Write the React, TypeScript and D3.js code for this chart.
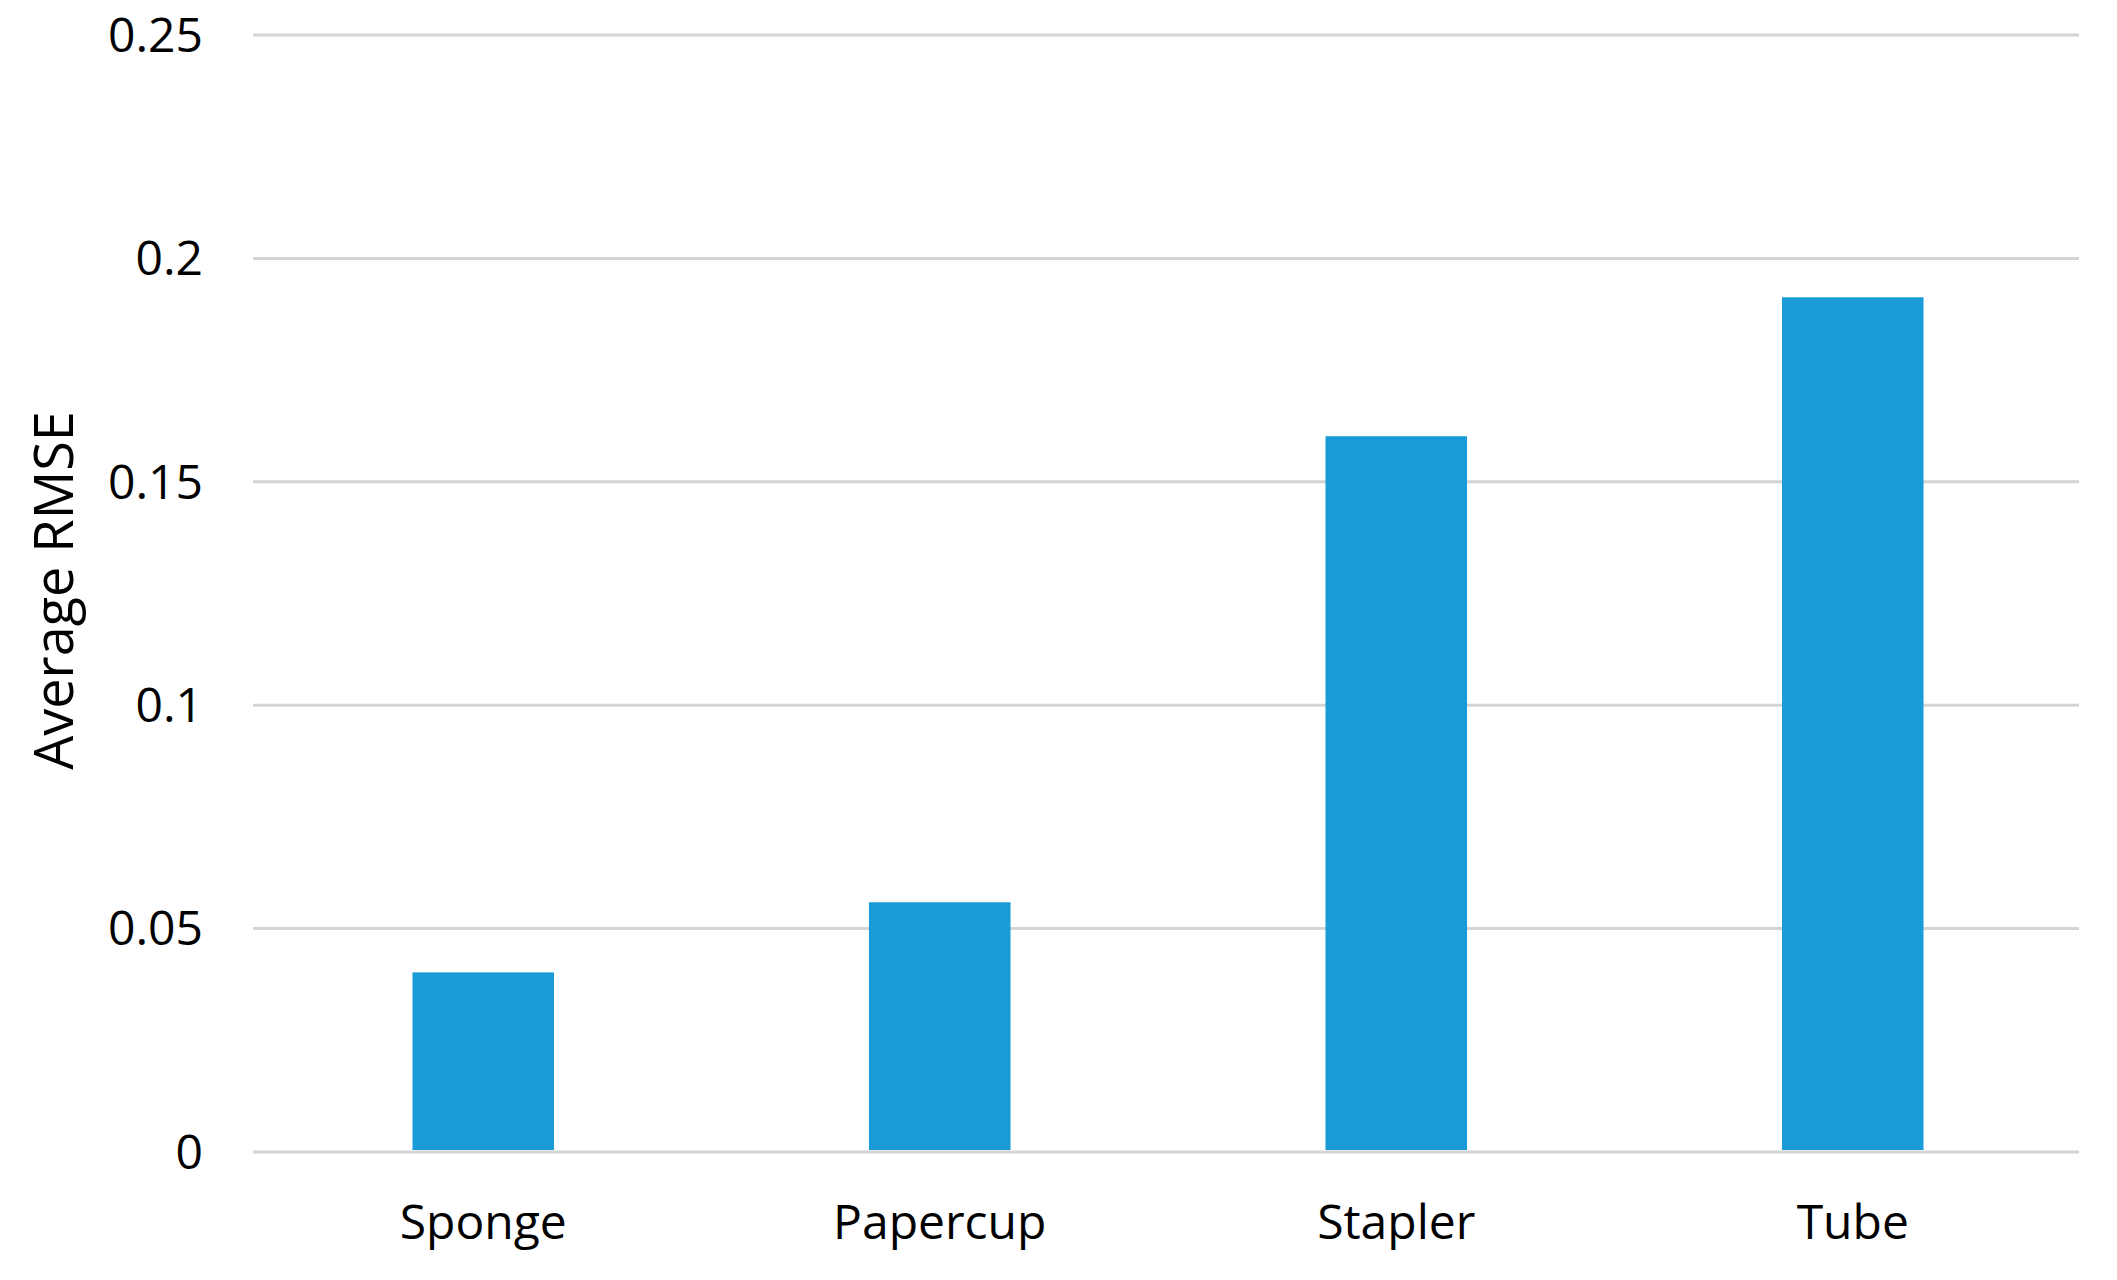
import React, { useRef, useEffect } from "react";
import * as d3 from "d3";

const categories = ["Sponge", "Papercup", "Stapler", "Tube"];
const rmseValues = [0.0402, 0.0559, 0.1602, 0.1913];
const tickValues = [0, 0.05, 0.1, 0.15, 0.2, 0.25];
const tickLabels = ["0", "0.05", "0.1", "0.15", "0.2", "0.25"];

const App = () => {
  const svgRef = useRef<SVGSVGElement | null>(null);

  useEffect(() => {
    const svg = d3.select(svgRef.current);
    svg.selectAll("*").remove();

    const width = 2117;
    const height = 1280;
    const margin = { top: 35, right: 38, bottom: 128, left: 253 };
    const font = "'Open Sans', 'Segoe UI', sans-serif";

    const x = d3
      .scaleBand()
      .domain(categories)
      .range([margin.left + 2, width - margin.right + 2])
      .paddingInner(0.69)
      .paddingOuter(0.345);

    const y = d3
      .scaleLinear()
      .domain([0, 0.25])
      .range([height - margin.bottom, margin.top]);

    // gridlines
    svg
      .append("g")
      .selectAll("line")
      .data(tickValues)
      .enter()
      .append("line")
      .attr("x1", margin.left)
      .attr("x2", width - margin.right)
      .attr("y1", (d) => y(d))
      .attr("y2", (d) => y(d))
      .attr("stroke", "#d4d4d4")
      .attr("stroke-width", 3);

    // y tick labels
    svg
      .append("g")
      .selectAll("text")
      .data(tickValues)
      .enter()
      .append("text")
      .attr("x", 203)
      .attr("y", (d) => y(d))
      .attr("dy", "0.35em")
      .attr("text-anchor", "end")
      .attr("font-family", font)
      .attr("font-size", 48)
      .attr("fill", "#000")
      .text((d, i) => tickLabels[i]);

    // bars
    svg
      .append("g")
      .selectAll("rect")
      .data(rmseValues)
      .enter()
      .append("rect")
      .attr("x", (d, i) => x(categories[i]) as number)
      .attr("width", x.bandwidth())
      .attr("y", (d) => y(d))
      .attr("height", (d) => y(0) - y(d) - 2)
      .attr("fill", "#1a9bd7");

    // category labels
    svg
      .append("g")
      .selectAll("text")
      .data(categories)
      .enter()
      .append("text")
      .attr("x", (d) => (x(d) as number) + x.bandwidth() / 2)
      .attr("y", 1222)
      .attr("dy", "0.35em")
      .attr("text-anchor", "middle")
      .attr("font-family", font)
      .attr("font-size", 48)
      .attr("fill", "#000")
      .text((d) => d);

    // axis title
    svg
      .append("text")
      .attr("transform", `translate(54, ${(y(0.25) + y(0)) / 2 - 3}) rotate(-90)`)
      .attr("dy", "0.35em")
      .attr("text-anchor", "middle")
      .attr("font-family", font)
      .attr("font-size", 54)
      .attr("fill", "#000")
      .text("Average RMSE");
  }, []);

  return (
    <svg
      ref={svgRef}
      width={2117}
      height={1280}
      style={{ position: "absolute", left: 0, top: 0, background: "#fff" }}
    ></svg>
  );
};

export default App;
